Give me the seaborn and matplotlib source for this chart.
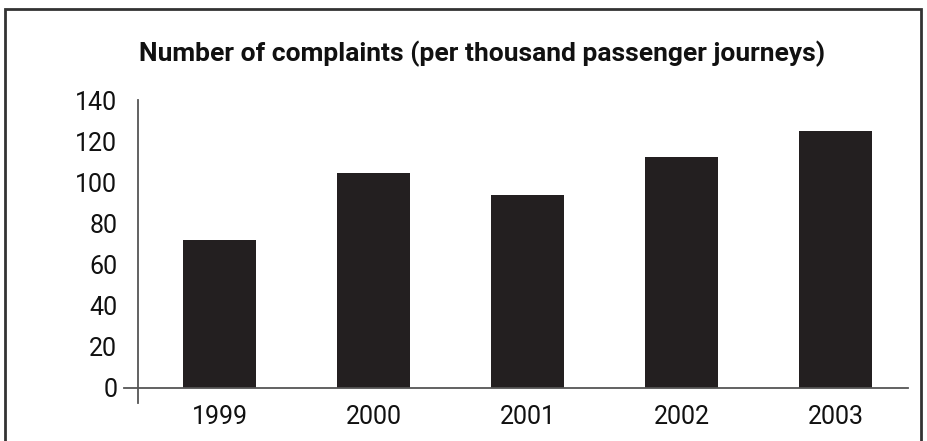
import matplotlib
matplotlib.use("Agg")
import matplotlib.pyplot as plt
import seaborn as sns
import pandas as pd
from matplotlib.patches import Rectangle

# --- dati ---
anni = ["1999", "2000", "2001", "2002", "2003"]
reclami = [72, 104.5, 94, 112.5, 125]
y_ticks = [0, 20, 40, 60, 80, 100, 120, 140]

df = pd.DataFrame({"anno": anni, "reclami": reclami})

sns.set_style("white")
plt.rcParams["font.family"] = ["Roboto", "DejaVu Sans"]

fig = plt.figure(figsize=(9.27, 4.41), dpi=100)
ax = fig.add_axes([138 / 927, 1 - 403 / 441, (908 - 138) / 927, (403 - 100) / 441])

sns.barplot(data=df, x="anno", y="reclami", color="#231f20", width=0.47,
            saturation=1, ax=ax, linewidth=0)

# assi
ax.set_xlim(-0.53, 4.47)
ax.set_ylim(-7.3, 140)
ax.spines["top"].set_visible(False)
ax.spines["right"].set_visible(False)
ax.spines["bottom"].set_position(("data", 0))
ax.spines["bottom"].set_bounds(-0.62, 4.47)
for s in ["left", "bottom"]:
    ax.spines[s].set_color("#555555")
    ax.spines[s].set_linewidth(1.3)

ax.set_yticks(y_ticks)
ax.tick_params(axis="y", direction="out", length=10, width=1.3, color="#555555",
               labelsize=18, pad=5, labelcolor="#111111")

# tacche tra le categorie, etichette al centro
ax.set_xticks([0.5, 1.5, 2.5, 3.5, 4.4])
ax.set_xticklabels([])
ax.set_xticks(range(len(anni)), minor=True)
ax.set_xticklabels(anni, minor=True)
ax.tick_params(axis="x", which="major", direction="out", length=11, width=1.3, color="#555555")
ax.tick_params(axis="x", which="minor", length=0, labelsize=18, pad=12, labelcolor="#111111")
ax.set_xlabel("")
ax.set_ylabel("")
ax.spines["bottom"].set_clip_on(False)

fig.text(482 / 927, 1 - 54 / 441, "Number of complaints (per thousand passenger journeys)",
         ha="center", va="center", fontsize=19, fontweight="bold", color="#111111")

# cornice
fig.patches.append(Rectangle((5 / 927, -0.05), (921 - 5) / 927, 1 - 9 / 441 + 0.05,
                             transform=fig.transFigure, fill=False,
                             edgecolor="#333333", linewidth=2))

fig.savefig("out.png", dpi=100)
